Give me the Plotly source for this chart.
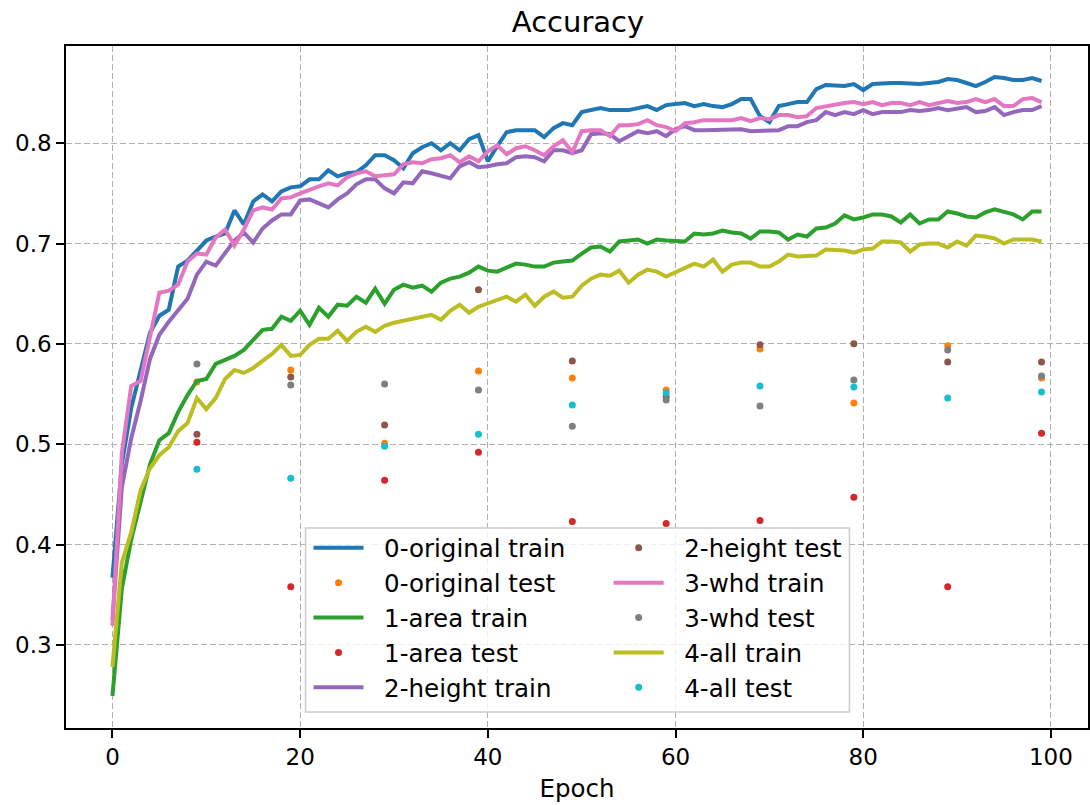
import plotly.graph_objects as go

epochs = list(range(100))
test_epochs = list(range(9, 100, 10))

# training accuracy per epoch
train_original = [
    0.367, 0.480, 0.536, 0.573, 0.611, 0.628, 0.634, 0.677, 0.683, 0.693,
    0.703, 0.707, 0.710, 0.733, 0.719, 0.742, 0.749, 0.742, 0.752, 0.756,
    0.757, 0.764, 0.764, 0.773, 0.767, 0.770, 0.771, 0.778, 0.788, 0.788,
    0.783, 0.775, 0.790, 0.796, 0.800, 0.793, 0.800, 0.793, 0.804, 0.808,
    0.782, 0.797, 0.811, 0.813, 0.813, 0.813, 0.806, 0.815, 0.820, 0.818,
    0.831, 0.833, 0.835, 0.833, 0.833, 0.833, 0.835, 0.837, 0.833, 0.838,
    0.839, 0.840, 0.837, 0.839, 0.837, 0.836, 0.839, 0.844, 0.844, 0.827,
    0.821, 0.837, 0.839, 0.841, 0.841, 0.854, 0.858, 0.858, 0.857, 0.859,
    0.853, 0.859, 0.860, 0.860, 0.860, 0.859, 0.859, 0.860, 0.861, 0.864,
    0.863, 0.860, 0.857, 0.861, 0.866, 0.865, 0.863, 0.863, 0.865, 0.862,
]
train_area = [
    0.249, 0.356, 0.405, 0.444, 0.480, 0.504, 0.511, 0.532, 0.549, 0.563,
    0.565, 0.580, 0.584, 0.588, 0.594, 0.604, 0.614, 0.615, 0.627, 0.623,
    0.633, 0.619, 0.636, 0.627, 0.639, 0.638, 0.647, 0.641, 0.655, 0.640,
    0.654, 0.659, 0.656, 0.658, 0.652, 0.661, 0.665, 0.667, 0.671, 0.677,
    0.673, 0.672, 0.676, 0.680, 0.679, 0.677, 0.677, 0.681, 0.682, 0.683,
    0.690, 0.696, 0.697, 0.692, 0.702, 0.703, 0.704, 0.700, 0.704, 0.703,
    0.703, 0.702, 0.710, 0.709, 0.710, 0.713, 0.711, 0.710, 0.705, 0.712,
    0.712, 0.711, 0.704, 0.709, 0.707, 0.715, 0.716, 0.720, 0.728, 0.724,
    0.726, 0.729, 0.729, 0.727, 0.721, 0.729, 0.720, 0.724, 0.724, 0.732,
    0.730, 0.727, 0.726, 0.731, 0.734, 0.731, 0.729, 0.724, 0.732, 0.732,
]
train_height = [
    0.325, 0.457, 0.506, 0.543, 0.585, 0.609, 0.622, 0.634, 0.645, 0.669,
    0.682, 0.678, 0.690, 0.703, 0.711, 0.701, 0.715, 0.723, 0.729, 0.729,
    0.743, 0.744, 0.740, 0.736, 0.744, 0.750, 0.759, 0.764, 0.764, 0.755,
    0.750, 0.761, 0.760, 0.772, 0.770, 0.767, 0.765, 0.777, 0.781, 0.776,
    0.777, 0.779, 0.780, 0.786, 0.787, 0.786, 0.782, 0.793, 0.793, 0.790,
    0.793, 0.809, 0.810, 0.809, 0.802, 0.807, 0.812, 0.810, 0.812, 0.807,
    0.814, 0.817, 0.813, 0.813, 0.813, 0.814, 0.814, 0.814, 0.812, 0.812,
    0.812, 0.813, 0.817, 0.817, 0.821, 0.823, 0.831, 0.828, 0.831, 0.829,
    0.833, 0.829, 0.831, 0.831, 0.831, 0.833, 0.832, 0.833, 0.835, 0.833,
    0.835, 0.836, 0.831, 0.832, 0.836, 0.828, 0.831, 0.833, 0.833, 0.837,
]
train_whd = [
    0.319, 0.491, 0.558, 0.563, 0.607, 0.651, 0.653, 0.659, 0.682, 0.690,
    0.689, 0.706, 0.714, 0.698, 0.714, 0.733, 0.736, 0.734, 0.745, 0.746,
    0.750, 0.754, 0.757, 0.760, 0.758, 0.766, 0.770, 0.772, 0.767, 0.768,
    0.769, 0.779, 0.781, 0.780, 0.784, 0.785, 0.788, 0.781, 0.787, 0.782,
    0.792, 0.798, 0.789, 0.795, 0.797, 0.793, 0.788, 0.797, 0.803, 0.791,
    0.812, 0.813, 0.813, 0.807, 0.818, 0.818, 0.819, 0.823, 0.818, 0.816,
    0.812, 0.820, 0.821, 0.823, 0.823, 0.823, 0.823, 0.825, 0.822, 0.825,
    0.824, 0.828, 0.828, 0.826, 0.827, 0.835, 0.837, 0.839, 0.840, 0.841,
    0.839, 0.841, 0.838, 0.840, 0.840, 0.838, 0.841, 0.838, 0.840, 0.842,
    0.840, 0.841, 0.844, 0.841, 0.844, 0.837, 0.837, 0.844, 0.845, 0.841,
]
train_all = [
    0.278, 0.382, 0.412, 0.454, 0.476, 0.489, 0.497, 0.513, 0.521, 0.546,
    0.535, 0.546, 0.565, 0.574, 0.571, 0.576, 0.583, 0.590, 0.599, 0.588,
    0.589, 0.599, 0.605, 0.605, 0.613, 0.603, 0.612, 0.617, 0.612, 0.618,
    0.621, 0.623, 0.626, 0.628, 0.629, 0.624, 0.633, 0.639, 0.631, 0.637,
    0.640, 0.644, 0.647, 0.642, 0.649, 0.638, 0.647, 0.652, 0.646, 0.647,
    0.658, 0.665, 0.669, 0.668, 0.673, 0.661, 0.669, 0.674, 0.672, 0.667,
    0.671, 0.676, 0.680, 0.677, 0.684, 0.672, 0.679, 0.681, 0.681, 0.677,
    0.677, 0.682, 0.689, 0.687, 0.687, 0.688, 0.694, 0.694, 0.693, 0.691,
    0.694, 0.695, 0.702, 0.702, 0.701, 0.692, 0.699, 0.700, 0.700, 0.696,
    0.702, 0.698, 0.708, 0.707, 0.705, 0.700, 0.704, 0.704, 0.704, 0.702,
]

# test accuracy every 10 epochs
test_original = [0.562, 0.574, 0.501, 0.573, 0.566, 0.554, 0.595, 0.541, 0.598, 0.566]
test_area = [0.502, 0.358, 0.464, 0.492, 0.423, 0.421, 0.424, 0.447, 0.358, 0.511]
test_height = [0.510, 0.567, 0.519, 0.654, 0.583, 0.547, 0.599, 0.600, 0.582, 0.582]
test_whd = [0.580, 0.559, 0.560, 0.554, 0.518, 0.544, 0.538, 0.564, 0.594, 0.568]
test_all = [0.475, 0.466, 0.498, 0.510, 0.539, 0.551, 0.558, 0.557, 0.546, 0.552]

series = [
    ("0-original train", "line", train_original, "#1f77b4", "legend"),
    ("0-original test", "dot", test_original, "#ff7f0e", "legend"),
    ("1-area train", "line", train_area, "#2ca02c", "legend"),
    ("1-area test", "dot", test_area, "#d62728", "legend"),
    ("2-height train", "line", train_height, "#9467bd", "legend"),
    ("2-height test", "dot", test_height, "#8c564b", "legend2"),
    ("3-whd train", "line", train_whd, "#e377c2", "legend2"),
    ("3-whd test", "dot", test_whd, "#7f7f7f", "legend2"),
    ("4-all train", "line", train_all, "#bcbd22", "legend2"),
    ("4-all test", "dot", test_all, "#17becf", "legend2"),
]

FONT = "DejaVu Sans"
PAD = "\u00a0\u00a0"  # gap between legend symbol and label

fig = go.Figure()
for name, kind, vals, color, leg in series:
    if kind == "line":
        fig.add_trace(go.Scatter(
            x=epochs, y=vals, mode="lines", name=PAD + name, legend=leg,
            line=dict(color=color, width=4),
        ))
    else:
        fig.add_trace(go.Scatter(
            x=test_epochs, y=vals, mode="markers", name=PAD + name, legend=leg,
            marker=dict(color=color, size=7, line=dict(width=0)),
        ))

axis_common = dict(
    showline=True, linecolor="black", linewidth=1.6, mirror=True,
    ticks="outside", ticklen=8, tickwidth=1.6, tickcolor="black",
    showgrid=True, gridcolor="#b0b0b0", gridwidth=1.4, griddash="6px,3px",
    zeroline=False,
    tickfont=dict(family=FONT, size=23, color="black"),
)

legend_common = dict(
    xanchor="left", yanchor="top", bgcolor="rgba(0,0,0,0)", borderwidth=0,
    font=dict(family=FONT, size=24.5), tracegroupgap=0, itemwidth=50,
)

fig.update_layout(
    width=1090, height=805,
    margin=dict(l=66, r=0, t=46, b=77),
    paper_bgcolor="white", plot_bgcolor="white",
    font=dict(family=FONT, color="black"),
    title=dict(text="Accuracy", x=(66 + 1090) / 2 / 1090, xanchor="center",
               y=1 - 22 / 805, yanchor="middle",
               font=dict(family=FONT, size=29, color="black")),
    xaxis=dict(range=[-4.95, 103.95], tickvals=[0, 20, 40, 60, 80, 100],
               title=dict(text="Epoch", font=dict(family=FONT, size=24.5), standoff=10),
               **axis_common),
    yaxis=dict(range=[0.2171, 0.8969], tickvals=[0.3, 0.4, 0.5, 0.6, 0.7, 0.8],
               tickformat=".1f", **axis_common),
    legend=dict(x=0.2373, y=0.297, **legend_common),
    legend2=dict(x=0.531, y=0.297, **legend_common),
    shapes=[dict(type="rect", xref="paper", yref="paper",
                 x0=0.2344, x1=0.7666, y0=0.0235, y1=0.2933,
                 fillcolor="rgba(255,255,255,0.8)",
                 line=dict(color="#cccccc", width=1.5), layer="above")],
)

fig.write_html("out.html")
